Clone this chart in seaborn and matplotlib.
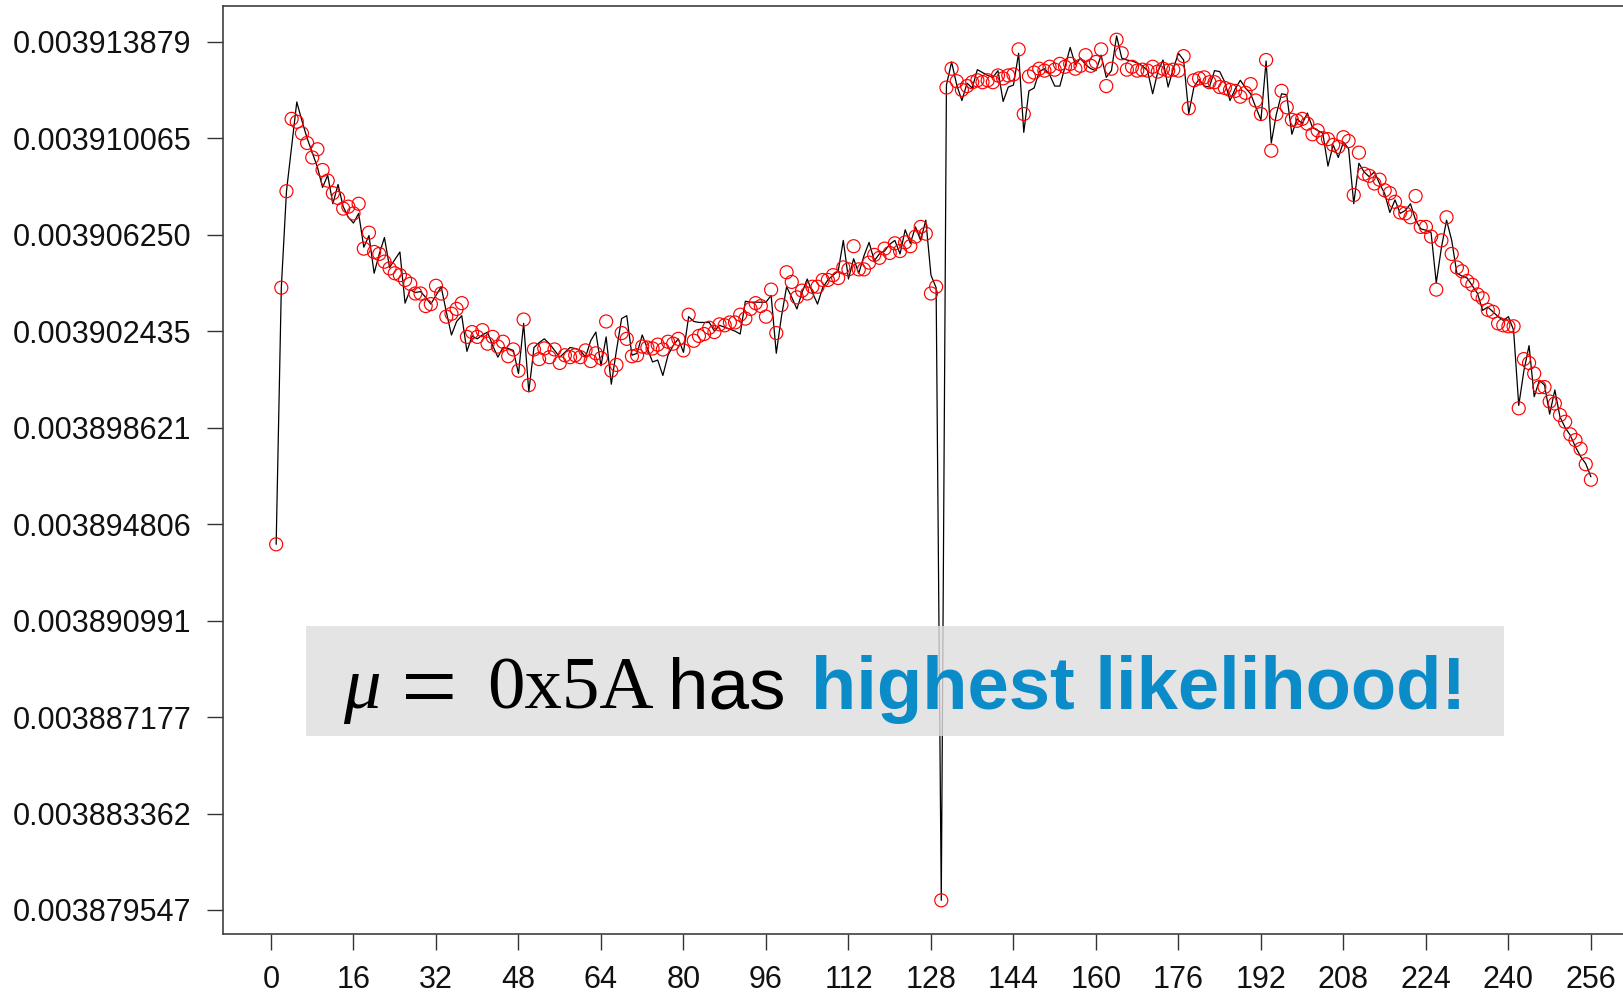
import numpy as np
import pandas as pd
import matplotlib
matplotlib.use("Agg")
import matplotlib.pyplot as plt
from matplotlib.patches import Rectangle
import seaborn as sns

# Values are read off the picture, expressed in steps of 2^-18 away from 1/256
# (the y tick labels are exactly 1/256 + k * 2^-18).
BASE = 1 / 256
STEP = 2 ** -18

key_index = list(range(1, 257))

circle_steps = [
    -3.21, -0.55, 0.45, 1.20, 1.17, 1.05, 0.95, 0.80, 0.885, 0.67,
    0.56, 0.43, 0.38, 0.27, 0.29, 0.22, 0.32, -0.145, 0.02, -0.18,
    -0.20, -0.28, -0.35, -0.40, -0.42, -0.47, -0.51, -0.61, -0.61, -0.74,
    -0.72, -0.53, -0.61, -0.85, -0.82, -0.77, -0.71, -1.06, -1.01, -1.06,
    -0.99, -1.13, -1.06, -1.16, -1.11, -1.26, -1.19, -1.41, -0.88, -1.56,
    -1.19, -1.29, -1.18, -1.27, -1.19, -1.33, -1.25, -1.27, -1.25, -1.27,
    -1.20, -1.31, -1.23, -1.28, -0.90, -1.41, -1.35, -1.02, -1.08, -1.26,
    -1.25, -1.16, -1.17, -1.18, -1.14, -1.19, -1.11, -1.13, -1.08, -1.20,
    -0.83, -1.10, -1.05, -1.03, -0.965, -1.01, -0.93, -0.94, -0.91, -0.91,
    -0.83, -0.87, -0.77, -0.71, -0.74, -0.85, -0.57, -1.02, -0.73, -0.39,
    -0.49, -0.65, -0.58, -0.61, -0.54, -0.54, -0.47, -0.47, -0.42, -0.45,
    -0.34, -0.36, -0.12, -0.36, -0.36, -0.29, -0.21, -0.24, -0.145, -0.19,
    -0.09, -0.17, -0.08, -0.12, -0.02, 0.08, 0.01, -0.61, -0.54, -6.90,
    1.525, 1.72, 1.59, 1.50, 1.54, 1.58, 1.60, 1.58, 1.60, 1.58,
    1.65, 1.62, 1.65, 1.66, 1.92, 1.25, 1.64, 1.68, 1.72, 1.70,
    1.74, 1.71, 1.77, 1.74, 1.77, 1.72, 1.75, 1.86, 1.75, 1.79,
    1.92, 1.54, 1.72, 2.02, 1.88, 1.71, 1.74, 1.70, 1.71, 1.70,
    1.74, 1.69, 1.72, 1.70, 1.71, 1.70, 1.85, 1.31, 1.60, 1.62,
    1.63, 1.58, 1.58, 1.53, 1.52, 1.50, 1.49, 1.43, 1.47, 1.56,
    1.39, 1.25, 1.81, 0.87, 1.25, 1.49, 1.32, 1.19, 1.18, 1.20,
    1.15, 1.04, 1.08, 1.00, 0.99, 0.93, 0.91, 1.01, 0.97, 0.41,
    0.85, 0.63, 0.61, 0.53, 0.57, 0.46, 0.43, 0.34, 0.23, 0.22,
    0.18, 0.40, 0.08, 0.08, -0.02, -0.57, -0.06, 0.18, -0.20, -0.34,
    -0.38, -0.48, -0.52, -0.62, -0.66, -0.78, -0.80, -0.92, -0.94, -0.95,
    -0.95, -1.80, -1.29, -1.33, -1.44, -1.58, -1.58, -1.73, -1.75, -1.87,
    -1.94, -2.07, -2.13, -2.22, -2.38, -2.54,
]

line_steps = [
    -3.21, -0.55, 0.45, 0.91, 1.375, 1.18, 1.00, 0.85, 0.70, 0.49,
    0.615, 0.32, 0.52, 0.29, 0.18, 0.12, 0.22, -0.13, -0.01, -0.40,
    -0.20, -0.03, -0.34, -0.26, -0.18, -0.71, -0.57, -0.60, -0.59, -0.65,
    -0.72, -0.63, -0.54, -0.80, -1.04, -0.90, -0.84, -1.21, -1.05, -1.08,
    -1.04, -1.01, -1.15, -1.27, -1.17, -1.18, -1.20, -1.44, -0.92, -1.63,
    -1.17, -1.12, -1.08, -1.13, -1.20, -1.27, -1.22, -1.17, -1.18, -1.20,
    -1.27, -1.10, -1.01, -1.36, -1.06, -1.55, -1.20, -0.87, -0.84, -1.25,
    -1.23, -1.04, -1.18, -1.32, -1.30, -1.46, -1.25, -1.15, -1.08, -1.22,
    -0.85, -0.90, -0.91, -0.91, -0.91, -1.00, -0.94, -0.96, -0.98, -1.00,
    -1.03, -0.69, -0.70, -0.70, -0.70, -0.70, -0.63, -1.23, -0.85, -0.54,
    -0.65, -0.77, -0.60, -0.46, -0.60, -0.72, -0.55, -0.47, -0.42, -0.38,
    -0.06, -0.46, -0.25, -0.40, -0.22, -0.08, -0.27, -0.20, -0.17, -0.10,
    -0.06, -0.20, 0.05, -0.09, 0.08, -0.06, 0.15, -0.42, -0.55, -6.90,
    1.55, 1.79, 1.55, 1.39, 1.57, 1.52, 1.71, 1.68, 1.65, 1.63,
    1.70, 1.38, 1.53, 1.55, 1.88, 1.06, 1.49, 1.52, 1.69, 1.72,
    1.66, 1.54, 1.54, 1.74, 1.94, 1.76, 1.83, 1.76, 1.72, 1.70,
    1.86, 1.63, 1.70, 2.06, 1.83, 1.81, 1.80, 1.78, 1.75, 1.70,
    1.46, 1.69, 1.81, 1.53, 1.72, 1.88, 1.81, 1.255, 1.53, 1.61,
    1.54, 1.53, 1.70, 1.69, 1.58, 1.39, 1.51, 1.60, 1.52, 1.46,
    1.32, 1.19, 1.80, 0.95, 1.25, 1.46, 1.45, 1.04, 1.20, 1.15,
    1.26, 1.11, 1.08, 1.05, 0.71, 0.93, 0.80, 0.96, 0.89, 0.32,
    0.74, 0.65, 0.60, 0.65, 0.53, 0.425, 0.23, 0.36, 0.22, 0.25,
    0.32, 0.15, 0.06, 0.045, 0.02, -0.50, -0.135, 0.15, -0.06, -0.40,
    -0.43, -0.45, -0.53, -0.61, -0.785, -0.75, -0.80, -0.85, -0.89, -0.85,
    -0.99, -1.77, -1.41, -1.15, -1.68, -1.51, -1.56, -1.86, -1.61, -1.89,
    -2.00, -2.08, -2.20, -2.30, -2.375, -2.51,
]

xtick_values = list(range(0, 257, 16))
ytick_steps = list(range(-7, 3))

df = pd.DataFrame({
    "key": key_index,
    "circle": BASE + STEP * np.array(circle_steps),
    "line": BASE + STEP * np.array(line_steps),
})

sns.set_style("white")
plt.rcParams["font.family"] = ["Liberation Sans", "DejaVu Sans"]

W, H = 1624, 994
fig = plt.figure(figsize=(W / 100, H / 100), dpi=100)
ax = fig.add_axes([223 / W, 1 - 934 / H, (1643 - 223) / W, (934 - 5.7) / H])

sns.lineplot(data=df, x="key", y="line", ax=ax, color="black", linewidth=0.9,
             zorder=2, estimator=None, sort=False)
sns.scatterplot(data=df, x="key", y="circle", ax=ax, marker="o", s=88,
                facecolors="none", edgecolor="#ff0000", linewidth=0.85, zorder=3)

ax.set_xlim(-9.31, 266.1)
ax.set_ylim(BASE + STEP * -7.249, BASE + STEP * 2.373)
ax.set_xticks(xtick_values)
ax.set_xticklabels([str(v) for v in xtick_values])
yt = [BASE + STEP * k for k in ytick_steps]
ax.set_yticks(yt)
ax.set_yticklabels(["%.9f" % v for v in yt])
ax.set_xlabel("")
ax.set_ylabel("")

for side in ["left", "bottom", "top", "right"]:
    ax.spines[side].set_visible(True)
    ax.spines[side].set_color("#404040")
    ax.spines[side].set_linewidth(1.2)

ax.tick_params(axis="both", which="major", bottom=True, left=True, top=False, right=False,
               direction="out", length=11.5, width=1.0, color="#333333",
               labelsize=22, labelcolor="#111111")
ax.tick_params(axis="y", pad=11.5)
ax.tick_params(axis="x", pad=10.5)
ax.grid(False)

# annotation box
x0, y0, x1, y1 = 305.5, 625.6, 1504.0, 736.4
fig.patches.append(Rectangle((x0 / W, 1 - y1 / H), (x1 - x0) / W, (y1 - y0) / H,
                             transform=fig.transFigure, facecolor="#dedede",
                             edgecolor="none", alpha=0.82, zorder=5))

base_y = 1 - 708.5 / H
fig.text(343 / W, base_y, "\u03bc", family=["Liberation Serif", "DejaVu Serif"],
         style="italic", fontsize=54, va="baseline", ha="left", color="black", zorder=6)
fig.text(429 / W, 1 - 720 / H, "=", family=["Liberation Serif", "DejaVu Serif"],
         fontsize=72, va="baseline", ha="center", color="black", zorder=6)
fig.text(487 / W, base_y, "0x5A", family=["Liberation Serif", "DejaVu Serif"],
         fontsize=54, va="baseline", ha="left", color="black", zorder=6)
fig.text(668 / W, base_y, "has", family=["Liberation Sans", "DejaVu Sans"],
         fontsize=52.5, va="baseline", ha="left", color="black", zorder=6)
fig.text(811 / W, base_y, "highest likelihood!", family=["Liberation Sans", "DejaVu Sans"],
         fontsize=53.5, fontweight="bold", va="baseline", ha="left", color="#0b8cc9", zorder=6)

fig.savefig("out.png", dpi=100)
